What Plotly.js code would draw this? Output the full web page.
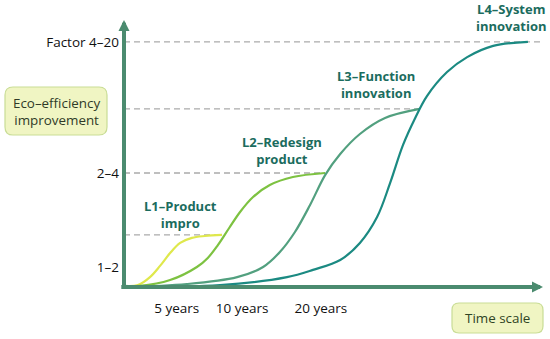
<!DOCTYPE html>
<html>
<head>
<meta charset="utf-8">
<script src="https://cdn.plot.ly/plotly-3.0.1.min.js"></script>
<style>html,body{margin:0;padding:0;background:#fff;}#chart{width:550px;height:339px;}</style>
</head>
<body>
<div id="chart"></div>
<script>
// ---- data (arbitrary units 0-100 on both axes) ----
const xTickVals = [12.6, 28.2, 47.0];
const xTickText = ['5 years', '10 years', '20 years'];
const yTickVals = [7.5, 42.7, 91.8];
const yTickText = ['1–2', '2–4', 'Factor 4–20'];

const seriesNames = ['L1–Product<br>impro', 'L2–Redesign<br>product', 'L3–Function<br>innovation', 'L4–System<br>innovation'];

const l1x = [0, 3.3, 6.2, 8.6, 11.0, 13.4, 16.2, 19.3, 23.4];
const l1y = [0.4, 0.7, 3.7, 7.9, 12.7, 16.5, 18.4, 19.1, 19.5];

const l2x = [0, 3.8, 11.0, 17.4, 20.0, 22.4, 25.1, 27.7, 30.8, 34.8, 40.3, 48.0];
const l2y = [0.4, 0.4, 2.6, 7.5, 10.9, 15.7, 22.1, 28.1, 33.7, 38.2, 41.2, 42.7];

const l3x = [0, 15.0, 27.0, 33.2, 37.2, 40.8, 44.4, 48.0, 51.6, 56.3, 62.3, 70.6];
const l3y = [0, 1.1, 3.7, 7.5, 13.1, 20.6, 30.7, 41.9, 49.8, 57.3, 63.3, 66.7];

const l4x = [0, 22.9, 38.9, 45.1, 51.6, 56.3, 60.4, 63.5, 66.6, 69.5, 72.3, 77.1, 81.9, 88.1, 96.4];
const l4y = [0, 0.7, 3.7, 6.4, 10.1, 16.5, 26.2, 38.9, 53.2, 63.3, 71.5, 80.5, 86.1, 90.3, 91.8];

// dashed guide lines: level and where they end
const guideLevels = [19.5, 42.7, 66.7, 91.8];
const guideEnds = [23.4, 48.0, 70.6, 100];

// series label anchor positions
const labelX = [13.6, 37.6, 60.1, 92.6];
const labelY = [27.0, 51.3, 75.7, 100.9];

const colors = ['#dfe84c', '#7dc241', '#52a07f', '#1b8a82'];
const axisColor = '#4b8b6f';
const labelColor = '#1b6c5e';

// ---- layout geometry ----
const W = 550, H = 339, ML = 124, MR = 7, MT = 20, MB = 52;
const PW = W - ML - MR, PH = H - MT - MB;
function px(X) { return (X - ML) / PW; }
function py(Y) { return (H - MB - Y) / PH; }
function roundRect(x0, y0, x1, y1, r) {
  const a = px(x0), b = px(x1), c = py(y0), d = py(y1);
  const rx = r / PW, ry = r / PH;
  return `M${a+rx},${c} L${b-rx},${c} Q${b},${c} ${b},${c-ry} L${b},${d+ry} Q${b},${d} ${b-rx},${d} L${a+rx},${d} Q${a},${d} ${a},${d+ry} L${a},${c-ry} Q${a},${c} ${a+rx},${c} Z`;
}

const traces = [];
guideLevels.forEach((lv, i) => {
  traces.push({x: [0, guideEnds[i]], y: [lv, lv], mode: 'lines', hoverinfo: 'skip',
    line: {color: '#ababab', width: 1.3, dash: '6px,4px'}, showlegend: false});
});
const xs = [l1x, l2x, l3x, l4x], ys = [l1y, l2y, l3y, l4y];
xs.forEach((x, i) => {
  traces.push({x: x, y: ys[i], mode: 'lines', showlegend: false,
    line: {color: colors[i], width: 2.2, shape: 'spline', smoothing: 1}});
});

const annotations = [
  {x: 0, y: 100, ax: 0, ay: 0, axref: 'x', ayref: 'y', xref: 'x', yref: 'y', text: '', showarrow: true,
   arrowhead: 2, arrowsize: 0.55, arrowwidth: 4, arrowcolor: axisColor, standoff: 0, startstandoff: 0},
  {x: 100, y: 0, ax: -1, ay: 0, axref: 'x', ayref: 'y', xref: 'x', yref: 'y', text: '', showarrow: true,
   arrowhead: 2, arrowsize: 0.55, arrowwidth: 4, arrowcolor: axisColor, standoff: 0, startstandoff: 0}
];
seriesNames.forEach((t, i) => {
  annotations.push({x: labelX[i] / 100, y: labelY[i] / 100, xref: 'paper', yref: 'paper',
    xanchor: 'center', yanchor: 'middle', text: '<b>' + t + '</b>',
    showarrow: false, font: {family: 'Open Sans', size: 13, color: labelColor}, align: 'center'});
});
annotations.push({x: px(56), y: py(111), xref: 'paper', yref: 'paper', xanchor: 'center', yanchor: 'middle',
  text: 'Eco–efficiency<br>improvement',
  showarrow: false, font: {family: 'Open Sans', size: 13.4, color: '#2f3a28'}, align: 'center'});
annotations.push({x: px(497.5), y: py(318), xref: 'paper', yref: 'paper', xanchor: 'center', yanchor: 'middle',
  text: 'Time scale',
  showarrow: false, font: {family: 'Open Sans', size: 13.4, color: '#2f4424'}, align: 'center'});

const shapes = [
  {type: 'path', xref: 'paper', yref: 'paper', path: roundRect(5, 87, 107, 135, 8),
   fillcolor: '#f0f5c3', line: {color: '#c9dd96', width: 1.2}, layer: 'below'},
  {type: 'path', xref: 'paper', yref: 'paper', path: roundRect(452, 303, 543, 333, 7),
   fillcolor: '#f0f5c3', line: {color: '#c9dd96', width: 1.2}, layer: 'below'}
];

const layout = {
  width: W, height: H,
  margin: {l: ML, r: MR, t: MT, b: MB, pad: 0},
  paper_bgcolor: '#fff', plot_bgcolor: 'rgba(0,0,0,0)',
  showlegend: false,
  xaxis: {range: [0, 100], showgrid: false, zeroline: false, showline: false, ticks: '',
    tickvals: xTickVals, ticktext: xTickText, tickfont: {family: 'Open Sans', size: 13.5, color: '#111'},
    ticklabelstandoff: 11, fixedrange: true},
  yaxis: {range: [0, 100], showgrid: false, zeroline: false, showline: false, ticks: '',
    tickvals: yTickVals, ticktext: yTickText, tickfont: {family: 'Open Sans', size: 13.5, color: '#111'},
    ticklabelstandoff: 4, fixedrange: true},
  annotations: annotations,
  shapes: shapes
};

Plotly.newPlot('chart', traces, layout, {displayModeBar: false, staticPlot: true});
</script>
</body>
</html>
